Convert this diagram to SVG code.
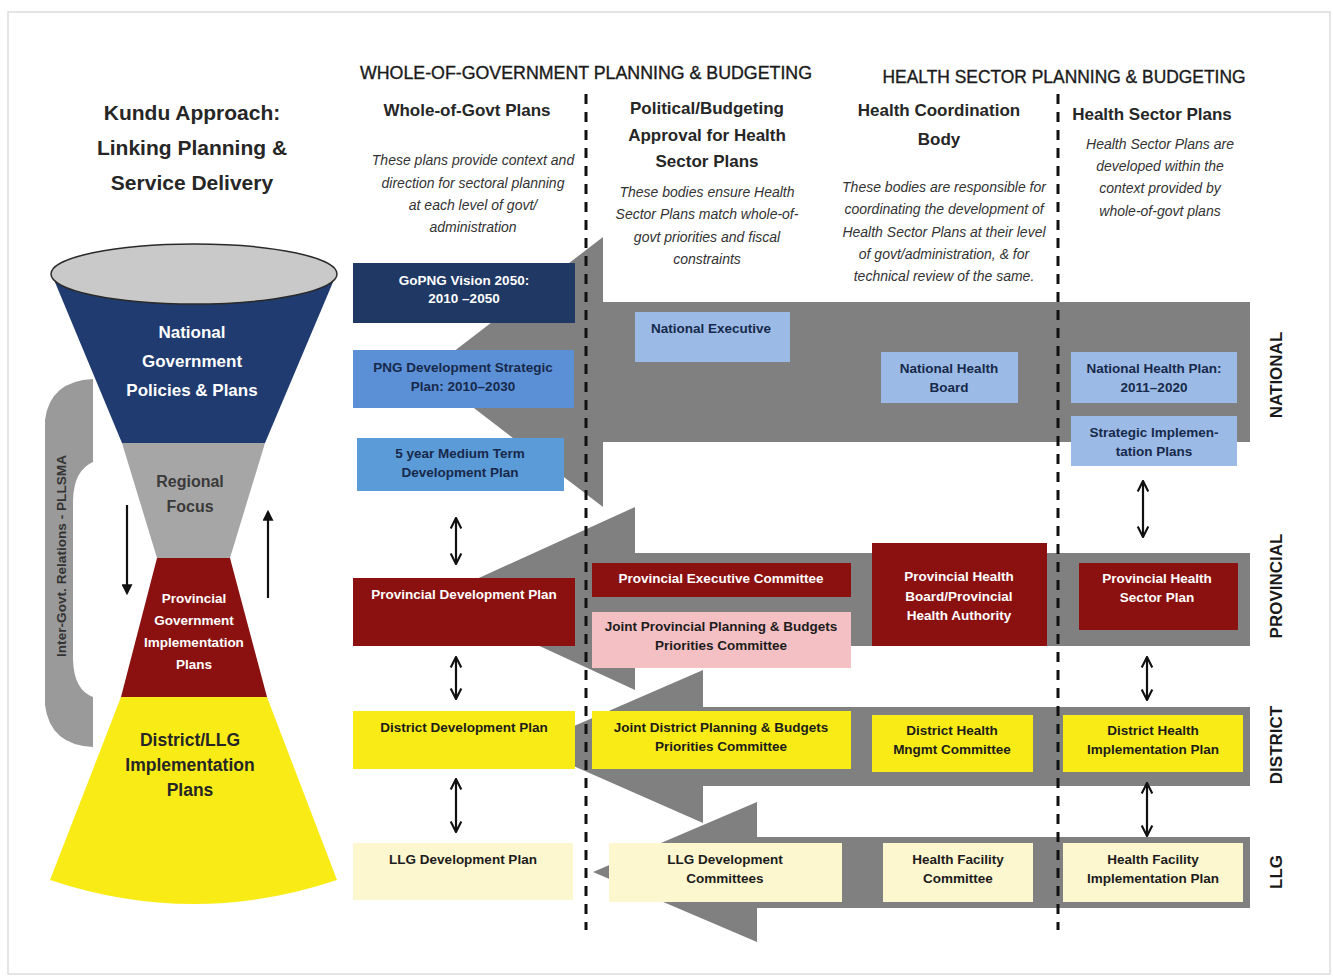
<svg xmlns="http://www.w3.org/2000/svg" width="1333" height="979" viewBox="0 0 1333 979">
<style>
text{font-family:"Liberation Sans",Arial,sans-serif;text-anchor:middle}
.title{font-size:21px;font-weight:bold;fill:#262626}
.hdr{font-size:17.5px;fill:#1a1a1a;stroke:#1a1a1a;stroke-width:0.35}
.colh{font-size:17px;font-weight:bold;fill:#262626}
.desc{font-size:14px;font-style:italic;fill:#333333}
.bw{font-size:13.5px;font-weight:bold;fill:#ffffff}
.bd{font-size:13.5px;font-weight:bold;fill:#1c1c1c}
.bn{font-size:13.5px;font-weight:bold;fill:#17294a}
.lvl{font-size:17px;font-weight:bold;fill:#1a1a1a}
.band{fill:#808080}
.dash{stroke:#111;stroke-width:3;stroke-dasharray:10 8;fill:none}
.dbl{stroke:#111;stroke-width:2.2;fill:none;marker-start:url(#chev);marker-end:url(#chev)}
.navy{fill:#1f3864}
.mblue{fill:#5b90d6}
.lblue{fill:#9bbbe6}
.red{fill:#8b1010}
.pink{fill:#f4c0c4}
.yel{fill:#f9ec16}
.lyel{fill:#fdf7cf}
</style>
<defs>
<marker id="chev" viewBox="0 0 10 10" refX="9" refY="5" markerWidth="6" markerHeight="6" orient="auto-start-reverse" markerUnits="strokeWidth">
<path d="M1,1 L9,5 L1,9" fill="none" stroke="#111" stroke-width="1.6"/>
</marker>
<marker id="tri" viewBox="0 0 10 10" refX="8" refY="5" markerWidth="5" markerHeight="5" orient="auto" markerUnits="strokeWidth">
<path d="M0,0 L10,5 L0,10 Z" fill="#111"/>
</marker>
</defs>
<rect x="8" y="12" width="1322" height="962" fill="#ffffff" stroke="#dcdcdc" stroke-width="1.5"/>

<g id="title">
<text class="title" x="192" y="120">Kundu Approach:</text>
<text class="title" x="192" y="155">Linking Planning &amp;</text>
<text class="title" x="192" y="190">Service Delivery</text>
</g>

<g id="funnel">
<path id="igr-bracket" d="M93,379 L93,462 Q74,470 73,500 L73,660 Q74,690 93,697 L93,747 Q50,745 45,705 L45,420 Q50,381 93,379 Z" fill="#9a9a9a"/>
<text x="61" y="556" transform="rotate(-90 61 556)" style="font-size:13.5px;font-weight:bold;fill:#333" textLength="202" lengthAdjust="spacingAndGlyphs" dy="5">Inter-Govt. Relations - PLLSMA</text>
<path d="M52,275 L122,443 L265,443 L336,275 Z" fill="#1f3b70"/>
<path d="M122,443 L265,443 L230,558 L157,558 Z" fill="#a6a6a6"/>
<path d="M157,558 L230,558 L267,697 L121,697 Z" fill="#8b1111"/>
<path d="M121,697 L267,697 L337,880 Q194,928 50,880 Z" fill="#f9ec16"/>
<ellipse cx="194" cy="274" rx="143" ry="30" fill="#c9c9c9" stroke="#2a2a2a" stroke-width="1.5"/>
<text x="192" y="338" style="font-size:17px;font-weight:bold;fill:#fff">National</text>
<text x="192" y="367" style="font-size:17px;font-weight:bold;fill:#fff">Government</text>
<text x="192" y="396" style="font-size:17px;font-weight:bold;fill:#fff">Policies &amp; Plans</text>
<text x="190" y="487" style="font-size:16px;font-weight:bold;fill:#3a3a3a">Regional</text>
<text x="190" y="512" style="font-size:16px;font-weight:bold;fill:#3a3a3a">Focus</text>
<text x="194" y="603" style="font-size:13.5px;font-weight:bold;fill:#fff">Provincial</text>
<text x="194" y="625" style="font-size:13.5px;font-weight:bold;fill:#fff">Government</text>
<text x="194" y="647" style="font-size:13.5px;font-weight:bold;fill:#fff">Implementation</text>
<text x="194" y="669" style="font-size:13.5px;font-weight:bold;fill:#fff">Plans</text>
<text x="190" y="746" style="font-size:17.5px;font-weight:bold;fill:#262626">District/LLG</text>
<text x="190" y="771" style="font-size:17.5px;font-weight:bold;fill:#262626">Implementation</text>
<text x="190" y="796" style="font-size:17.5px;font-weight:bold;fill:#262626">Plans</text>
<line x1="127" y1="505" x2="127" y2="593" stroke="#111" stroke-width="2.2" marker-end="url(#tri)"/>
<line x1="268" y1="598" x2="268" y2="512" stroke="#111" stroke-width="2.2" marker-end="url(#tri)"/>
</g>

<g id="headers">
<text class="hdr" x="586" y="79" textLength="452" lengthAdjust="spacingAndGlyphs">WHOLE-OF-GOVERNMENT PLANNING &amp; BUDGETING</text>
<text class="hdr" x="1064" y="83" textLength="363" lengthAdjust="spacingAndGlyphs">HEALTH SECTOR PLANNING &amp; BUDGETING</text>
<text class="colh" x="467" y="116">Whole-of-Govt Plans</text>
<text class="colh" x="707" y="114">Political/Budgeting</text>
<text class="colh" x="707" y="141">Approval for Health</text>
<text class="colh" x="707" y="167">Sector Plans</text>
<text class="colh" x="939" y="116">Health Coordination</text>
<text class="colh" x="939" y="145">Body</text>
<text class="colh" x="1152" y="120">Health Sector Plans</text>
<text class="desc" x="473" y="165">These plans provide context and</text>
<text class="desc" x="473" y="188">direction for sectoral planning</text>
<text class="desc" x="473" y="210">at each level of govt/</text>
<text class="desc" x="473" y="232">administration</text>
<text class="desc" x="707" y="197">These bodies ensure Health</text>
<text class="desc" x="707" y="219">Sector Plans match whole-of-</text>
<text class="desc" x="707" y="242">govt priorities and fiscal</text>
<text class="desc" x="707" y="264">constraints</text>
<text class="desc" x="944" y="192">These bodies are responsible for</text>
<text class="desc" x="944" y="214">coordinating the development of</text>
<text class="desc" x="944" y="237">Health Sector Plans at their level</text>
<text class="desc" x="944" y="259">of govt/administration, &amp; for</text>
<text class="desc" x="944" y="281">technical review of the same.</text>
<text class="desc" x="1160" y="149">Health Sector Plans are</text>
<text class="desc" x="1160" y="171">developed within the</text>
<text class="desc" x="1160" y="193">context provided by</text>
<text class="desc" x="1160" y="216">whole-of-govt plans</text>
</g>

<g id="bands">
<path class="band" d="M1250,302 L603,302 L603,237 L427,372 L603,507 L603,442 L1250,442 Z"/>
<path class="band" d="M1250,553 L635,553 L635,507 L435,598 L635,690 L635,646 L1250,646 Z"/>
<path class="band" d="M1250,707 L703,707 L703,670 L528,746 L703,823 L703,786 L1250,786 Z"/>
<path class="band" d="M1250,837 L757,837 L757,802 L593,872 L757,942 L757,908 L1250,908 Z"/>
</g>

<g id="level-labels">
<text class="lvl" x="1276" y="375" transform="rotate(-90 1276 375)" dy="6">NATIONAL</text>
<text class="lvl" x="1276" y="586" transform="rotate(-90 1276 586)" dy="6">PROVINCIAL</text>
<text class="lvl" x="1276" y="745" transform="rotate(-90 1276 745)" dy="6">DISTRICT</text>
<text class="lvl" x="1276" y="872" transform="rotate(-90 1276 872)" dy="6">LLG</text>
</g>

<g id="gopng-vision"><rect class="navy" x="353" y="263" width="222" height="60"/>
<text class="bw" x="464" y="285">GoPNG Vision 2050:</text><text class="bw" x="464" y="303">2010 –2050</text></g>
<g id="png-dsp"><rect class="mblue" x="353" y="350" width="221" height="58"/>
<text class="bn" x="463" y="372">PNG Development Strategic</text><text class="bn" x="463" y="391">Plan: 2010–2030</text></g>
<g id="mtdp"><rect fill="#5b9bd8" x="357" y="438" width="207" height="53"/>
<text class="bn" x="460" y="458">5 year Medium Term</text><text class="bn" x="460" y="477">Development Plan</text></g>
<g id="national-executive"><rect class="lblue" x="635" y="312" width="155" height="50"/>
<text class="bn" x="711" y="333">National Executive</text></g>
<g id="national-health-board"><rect class="lblue" x="881" y="352" width="137" height="51"/>
<text class="bn" x="949" y="373">National Health</text><text class="bn" x="949" y="392">Board</text></g>
<g id="national-health-plan"><rect class="lblue" x="1071" y="352" width="166" height="51"/>
<text class="bn" x="1154" y="373">National Health Plan:</text><text class="bn" x="1154" y="392">2011–2020</text></g>
<g id="strategic-impl-plans"><rect class="lblue" x="1071" y="416" width="166" height="50"/>
<text class="bn" x="1154" y="437">Strategic Implemen-</text><text class="bn" x="1154" y="456">tation Plans</text></g>

<g id="provincial-dev-plan"><rect class="red" x="353" y="578" width="222" height="68"/>
<text class="bw" x="464" y="599">Provincial Development Plan</text></g>
<g id="provincial-exec-committee"><rect class="red" x="592" y="563" width="259" height="34"/>
<text class="bw" x="721" y="583">Provincial Executive Committee</text></g>
<g id="joint-provincial-committee"><rect class="pink" x="592" y="612" width="259" height="56"/>
<text class="bd" x="721" y="631">Joint Provincial Planning &amp; Budgets</text><text class="bd" x="721" y="650">Priorities Committee</text></g>
<g id="provincial-health-board"><rect class="red" x="872" y="543" width="175" height="103"/>
<text class="bw" x="959" y="581">Provincial Health</text><text class="bw" x="959" y="601">Board/Provincial</text><text class="bw" x="959" y="620">Health Authority</text></g>
<g id="provincial-health-sector-plan"><rect class="red" x="1079" y="563" width="159" height="67"/>
<text class="bw" x="1157" y="583">Provincial Health</text><text class="bw" x="1157" y="602">Sector Plan</text></g>

<g id="district-dev-plan"><rect class="yel" x="353" y="711" width="222" height="58"/>
<text class="bd" x="464" y="732">District Development Plan</text></g>
<g id="joint-district-committee"><rect class="yel" x="592" y="711" width="259" height="58"/>
<text class="bd" x="721" y="732">Joint District Planning &amp; Budgets</text><text class="bd" x="721" y="751">Priorities Committee</text></g>
<g id="district-health-mngmt"><rect class="yel" x="872" y="715" width="161" height="57"/>
<text class="bd" x="952" y="735">District Health</text><text class="bd" x="952" y="754">Mngmt Committee</text></g>
<g id="district-health-impl-plan"><rect class="yel" x="1063" y="715" width="180" height="57"/>
<text class="bd" x="1153" y="735">District Health</text><text class="bd" x="1153" y="754">Implementation Plan</text></g>

<g id="llg-dev-plan"><rect class="lyel" x="353" y="843" width="220" height="57"/>
<text class="bd" x="463" y="864">LLG Development Plan</text></g>
<g id="llg-dev-committees"><rect class="lyel" x="609" y="843" width="233" height="59"/>
<text class="bd" x="725" y="864">LLG Development</text><text class="bd" x="725" y="883">Committees</text></g>
<g id="health-facility-committee"><rect class="lyel" x="883" y="843" width="150" height="59"/>
<text class="bd" x="958" y="864">Health Facility</text><text class="bd" x="958" y="883">Committee</text></g>
<g id="health-facility-impl-plan"><rect class="lyel" x="1063" y="843" width="180" height="59"/>
<text class="bd" x="1153" y="864">Health Facility</text><text class="bd" x="1153" y="883">Implementation Plan</text></g>

<g id="connectors">
<line class="dash" x1="586" y1="94" x2="586" y2="930"/>
<line class="dash" x1="1058" y1="94" x2="1058" y2="930"/>
<line class="dbl" x1="456" y1="518" x2="456" y2="564"/>
<line class="dbl" x1="456" y1="657" x2="456" y2="699"/>
<line class="dbl" x1="456" y1="779" x2="456" y2="832"/>
<line class="dbl" x1="1143" y1="481" x2="1143" y2="537"/>
<line class="dbl" x1="1147" y1="657" x2="1147" y2="700"/>
<line class="dbl" x1="1147" y1="783" x2="1147" y2="836"/>
</g>
</svg>
